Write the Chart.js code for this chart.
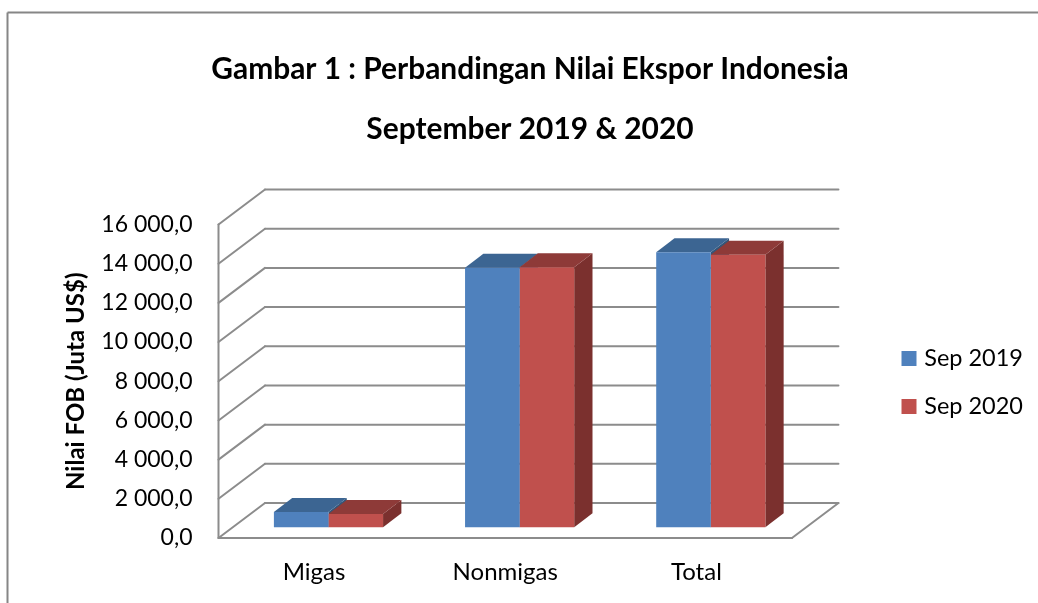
<!DOCTYPE html>
<html><head><meta charset="utf-8">
<style>html,body{margin:0;padding:0;background:#fff}canvas{display:block}</style>
<script src="https://cdn.jsdelivr.net/npm/chart.js@4"></script>
</head><body>
<canvas id="c" width="1038" height="603"></canvas>
<script>
const categories = ["Migas", "Nonmigas", "Total"];
const sep2019 = [780, 13250, 14035];
const sep2020 = [680, 13270, 13915];
const seriesNames = ["Sep 2019", "Sep 2020"];
const titleLines = ["Gambar 1 : Perbandingan Nilai Ekspor Indonesia", "September 2019 & 2020"];
const yAxisTitle = "Nilai FOB (Juta US$)";

const FONT = "Lato, Carlito, sans-serif";
const GRID = "#8c8c8c";
const wallDX = 46.5, wallDY = -35;
const barDX = 14.4, barDY = -10.7;
const depthX = 18.3, depthY = -14;
const faceShades = [
  {top: "#3c6592", side: "#335679"},
  {top: "#8e3a38", side: "#7b302e"}
];

function line(ctx, x1, y1, x2, y2) {
  ctx.beginPath(); ctx.moveTo(x1, y1); ctx.lineTo(x2, y2); ctx.stroke();
}
function poly(ctx, pts, fill) {
  ctx.fillStyle = fill; ctx.beginPath();
  pts.forEach((p, i) => i ? ctx.lineTo(p[0], p[1]) : ctx.moveTo(p[0], p[1]));
  ctx.closePath(); ctx.fill();
}

const bars3d = {
  id: "bars3d",
  afterLayout(chart) {
    const lg = chart.legend, t = chart.titleBlock;
    lg.left = 877; lg.right = 1023;
    const mid = 530, half = 500;
    t.left = mid - half; t.right = mid + half;
    lg.top = 300; lg.bottom = 465;
  },
  beforeDraw(chart) {
    const ctx = chart.ctx;
    ctx.save();
    ctx.strokeStyle = "#868686"; ctx.lineWidth = 2;
    line(ctx, 7.5, 603, 7.5, 12.5);
    line(ctx, 7.5, 12.5, 1038, 12.5);
    ctx.restore();
  },
  beforeDatasetsDraw(chart) {
    const ctx = chart.ctx, {left, right, bottom} = chart.chartArea, y = chart.scales.y;
    ctx.save();
    ctx.strokeStyle = GRID; ctx.lineWidth = 2; ctx.lineCap = "round";
    y.ticks.forEach(t => {
      const py = y.getPixelForValue(t.value);
      line(ctx, left, py, left + wallDX, py + wallDY);
      line(ctx, left + wallDX, py + wallDY, right + wallDX, py + wallDY);
    });
    line(ctx, left, y.top, left, bottom);
    line(ctx, left, bottom, right, bottom);
    line(ctx, right, bottom, right + wallDX, bottom + wallDY);
    chart.data.datasets.forEach((ds, i) => {
      chart.getDatasetMeta(i).data.forEach(el => {
        const x0 = el.x - el.width / 2 + barDX, x1 = el.x + el.width / 2 + barDX;
        const yt = el.y + barDY, yb = el.base + barDY;
        poly(ctx, [[x1, yt], [x1 + depthX, yt + depthY], [x1 + depthX, yb + depthY], [x1, yb]], faceShades[i].side);
        poly(ctx, [[x0, yt], [x0 + depthX, yt + depthY], [x1 + depthX, yt + depthY], [x1, yt]], faceShades[i].top);
      });
    });
    ctx.translate(barDX, barDY);
  },
  afterDatasetsDraw(chart) { chart.ctx.restore(); }
};

new Chart(document.getElementById("c"), {
  type: "bar",
  data: {
    labels: categories,
    datasets: [
      {label: seriesNames[0], data: sep2019, backgroundColor: "#4f81bd", clip: false},
      {label: seriesNames[1], data: sep2020, backgroundColor: "#c0504d", clip: false}
    ]
  },
  options: {
    responsive: false,
    animation: false,
    devicePixelRatio: 1,
    layout: {padding: {left: 0, right: 86, top: 0, bottom: 0}},
    datasets: {bar: {categoryPercentage: 0.571, barPercentage: 1}},
    plugins: {
      tooltip: {enabled: false},
      title: {
        display: true,
        text: titleLines,
        color: "#000",
        font: {family: FONT, size: 29.9, weight: "bold", lineHeight: 60 / 29.9},
        padding: {top: 39, bottom: 65.5}
      },
      legend: {
        position: "right",
        labels: {
          boxWidth: 15, boxHeight: 15, padding: 24.5,
          textAlign: "right",
          color: "#000",
          font: {family: FONT, size: 23.5}
        }
      }
    },
    scales: {
      x: {
        grid: {display: false},
        border: {display: false},
        ticks: {color: "#000", font: {family: FONT, size: 24}, padding: 12, maxRotation: 0},
        afterFit(s) { s.height = 65; }
      },
      y: {
        min: 0, max: 16000,
        grid: {display: false, drawTicks: false},
        border: {display: false},
        ticks: {
          stepSize: 2000, color: "#000", padding: 26,
          font: {family: FONT, size: 23},
          callback: v => {
            const k = Math.floor(v / 1000), r = String(v % 1000).padStart(3, "0");
            return (k > 0 ? k + " " + r : "0") + ",0";
          }
        },
        title: {
          display: true, text: yAxisTitle, color: "#000",
          font: {family: FONT, size: 24, weight: "bold"},
          padding: {top: 62, bottom: 0}
        },
        afterFit(s) { s.width = 218.5; }
      }
    }
  },
  plugins: [bars3d]
});
</script>
</body></html>
